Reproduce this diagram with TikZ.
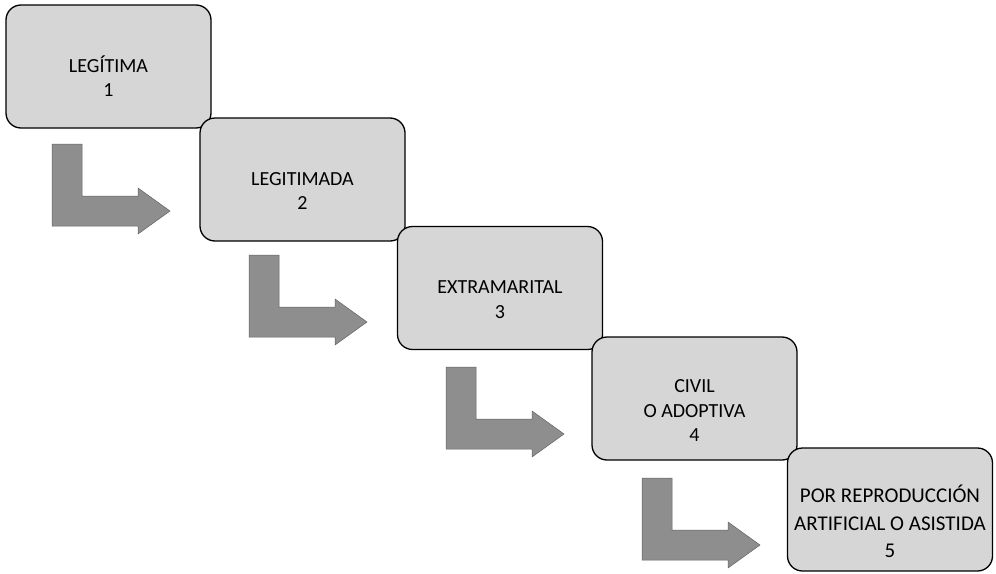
\documentclass[tikz,border=0pt]{standalone}
\usepackage{fontspec}
\setmainfont{Carlito}
\definecolor{boxfill}{HTML}{D6D6D6}
\definecolor{arrowfill}{HTML}{8E8E8E}
\tikzset{
  stagebox/.style={draw=black, line width=1.3pt, fill=boxfill, rounded corners=15pt,
    rectangle, inner sep=0pt, minimum width=205pt, minimum height=123pt},
  stagetext/.style={anchor=base, inner sep=0pt, font=\fontsize{20}{24.5}\selectfont},
  bigtext/.style={anchor=base, inner sep=0pt, font=\fontsize{21}{27.5}\selectfont},
  bentarrow/.style={fill=arrowfill, draw=arrowfill!70!black, line width=0.5pt}
}
\begin{document}
\begin{tikzpicture}[x=1pt,y=-1pt]
\useasboundingbox (0,0) rectangle (996,573);
% bent arrows
\foreach \dx/\dy in {0/0, 197/111, 394/223, 590/334}{
  \begin{scope}[shift={(\dx,\dy)}]
    \path[bentarrow] (52,144) -- (82,144) -- (82,196) -- (138,196) -- (138,188)
      -- (170,211) -- (138,234) -- (138,226) -- (52,226) -- cycle;
  \end{scope}
}
% boxes
\node[stagebox] (b1) at (108.5,66.5) {};
\node[stagetext] (t1) at ([yshift=-5.5pt]b1.center) {\begin{tabular}[t]{@{}c@{}}LEGÍTIMA\\1\end{tabular}};
\node[stagebox] (b2) at (302.5,179.5) {};
\node[stagetext] (t2) at ([yshift=-5.5pt]b2.center) {\begin{tabular}[t]{@{}c@{}}LEGITIMADA\\2\end{tabular}};
\node[stagebox] (b3) at (500,288) {};
\node[stagetext] (t3) at ([yshift=-5.5pt]b3.center) {\begin{tabular}[t]{@{}c@{}}EXTRAMARITAL\\3\end{tabular}};
\node[stagebox] (b4) at (694.5,398.5) {};
\node[stagetext] (t4) at ([yshift=6pt]b4.center) {\begin{tabular}[t]{@{}c@{}}CIVIL\\O ADOPTIVA\\4\end{tabular}};
\node[stagebox] (b5) at (890,509.5) {};
\node[bigtext] (t5) at ([yshift=7pt]b5.center) {\begin{tabular}[t]{@{}c@{}}POR REPRODUCCIÓN\\ARTIFICIAL O ASISTIDA\\5\end{tabular}};
\end{tikzpicture}
\end{document}
